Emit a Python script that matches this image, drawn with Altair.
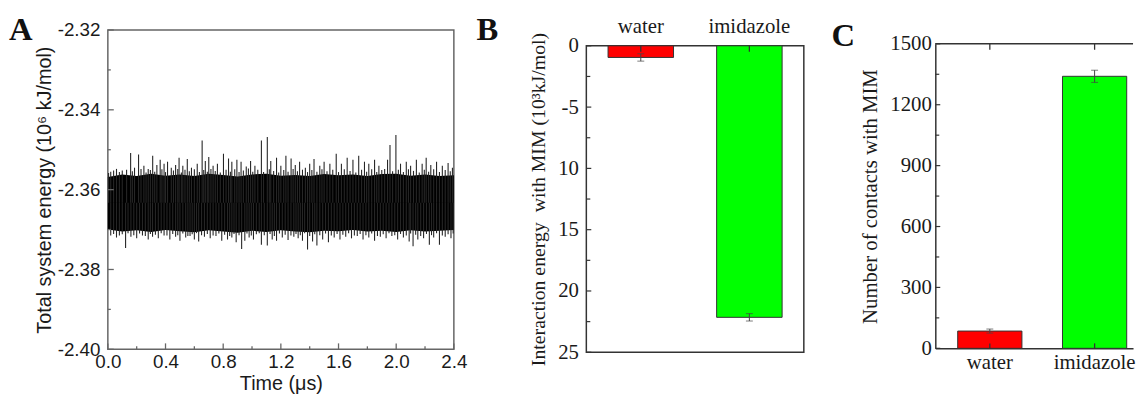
import altair as alt
import pandas as pd

SANS = "Liberation Sans"
SERIF = "Liberation Serif"
INK = "#1a1a1a"
FRAME_A = "#666666"
FRAME_BC = "#333333"

# ---------------- Panel A data ----------------
a_env_t = [0.00, 0.10, 0.20, 0.30, 0.40, 0.50, 0.60, 0.70, 0.80, 0.90, 1.00, 1.10,
           1.20, 1.30, 1.40, 1.50, 1.60, 1.70, 1.80, 1.90, 2.00, 2.10, 2.20, 2.30, 2.40]
a_env_hi = [-2.3568, -2.3562, -2.3566, -2.3560, -2.3565, -2.3562, -2.3566, -2.3560,
            -2.3563, -2.3567, -2.3562, -2.3560, -2.3565, -2.3563, -2.3566, -2.3561,
            -2.3564, -2.3562, -2.3566, -2.3561, -2.3560, -2.3565, -2.3562, -2.3566, -2.3564]
a_env_lo = [-2.3700, -2.3705, -2.3702, -2.3706, -2.3701, -2.3704, -2.3707, -2.3702,
            -2.3705, -2.3708, -2.3703, -2.3706, -2.3702, -2.3705, -2.3707, -2.3703,
            -2.3704, -2.3701, -2.3705, -2.3703, -2.3706, -2.3702, -2.3705, -2.3703, -2.3701]
a_center = -2.3633

# tall spikes above the band
a_up_t = [0.02, 0.06, 0.10, 0.158, 0.185, 0.213, 0.25, 0.28, 0.311, 0.34, 0.363, 0.39,
          0.414, 0.44, 0.47, 0.494, 0.52, 0.551, 0.58, 0.62, 0.654, 0.676, 0.70, 0.73,
          0.76, 0.802, 0.837, 0.86, 0.895, 0.924, 0.96, 0.99, 1.02, 1.065, 1.106, 1.13,
          1.17, 1.20, 1.235, 1.271, 1.30, 1.33, 1.37, 1.40, 1.43, 1.47, 1.50, 1.54,
          1.584, 1.62, 1.66, 1.70, 1.74, 1.78, 1.81, 1.85, 1.88, 1.94, 1.957, 1.998,
          2.03, 2.07, 2.10, 2.14, 2.18, 2.208, 2.24, 2.28, 2.32, 2.36, 2.39]
a_up_v = [-2.3555, -2.3548, -2.3552, -2.3508, -2.3545, -2.3512, -2.3540, -2.3548,
          -2.3515, -2.3538, -2.3525, -2.3535, -2.3530, -2.3545, -2.3538, -2.3520,
          -2.3540, -2.3523, -2.3545, -2.3535, -2.3477, -2.3528, -2.3518, -2.3540,
          -2.3535, -2.3510, -2.3522, -2.3530, -2.3525, -2.3530, -2.3542, -2.3528,
          -2.3540, -2.3477, -2.3468, -2.3528, -2.3520, -2.3540, -2.3515, -2.3522,
          -2.3538, -2.3530, -2.3545, -2.3535, -2.3523, -2.3540, -2.3530, -2.3535,
          -2.3510, -2.3535, -2.3520, -2.3525, -2.3515, -2.3530, -2.3535, -2.3525,
          -2.3540, -2.3525, -2.3488, -2.3463, -2.3535, -2.3530, -2.3540, -2.3525,
          -2.3535, -2.3520, -2.3538, -2.3530, -2.3540, -2.3533, -2.3545]
# short jagged spikes on the upper edge
a_upe_t = [0.005, 0.04, 0.08, 0.13, 0.17, 0.23, 0.265, 0.295, 0.325, 0.375, 0.40, 0.455,
           0.485, 0.51, 0.535, 0.565, 0.60, 0.635, 0.665, 0.69, 0.715, 0.745, 0.78, 0.82,
           0.85, 0.88, 0.91, 0.94, 0.975, 1.005, 1.04, 1.08, 1.12, 1.15, 1.185, 1.22,
           1.25, 1.285, 1.315, 1.35, 1.385, 1.415, 1.45, 1.485, 1.52, 1.56, 1.60, 1.64,
           1.68, 1.72, 1.76, 1.795, 1.83, 1.865, 1.90, 1.92, 1.975, 2.015, 2.05, 2.085,
           2.12, 2.16, 2.195, 2.225, 2.26, 2.30, 2.34, 2.375]
a_upe_v = [-2.3558, -2.3552, -2.3556, -2.3550, -2.3554, -2.3548, -2.3557, -2.3551,
           -2.3555, -2.3549, -2.3556, -2.3552, -2.3548, -2.3557, -2.3550, -2.3554,
           -2.3549, -2.3556, -2.3551, -2.3555, -2.3548, -2.3553, -2.3557, -2.3550,
           -2.3555, -2.3549, -2.3556, -2.3552, -2.3547, -2.3555, -2.3550, -2.3556,
           -2.3549, -2.3553, -2.3557, -2.3551, -2.3555, -2.3548, -2.3554, -2.3550,
           -2.3556, -2.3551, -2.3555, -2.3549, -2.3554, -2.3550, -2.3556, -2.3549,
           -2.3553, -2.3557, -2.3550, -2.3555, -2.3549, -2.3556, -2.3551, -2.3548,
           -2.3554, -2.3550, -2.3556, -2.3549, -2.3553, -2.3557, -2.3550, -2.3555,
           -2.3549, -2.3556, -2.3551, -2.3554]
# tall spikes below the band
a_dn_t = [0.02, 0.06, 0.10, 0.123, 0.16, 0.20, 0.24, 0.28, 0.31, 0.35, 0.39, 0.43,
          0.47, 0.50, 0.54, 0.57, 0.60, 0.63, 0.67, 0.71, 0.75, 0.79, 0.83, 0.86,
          0.89, 0.928, 0.95, 0.98, 1.01, 1.065, 1.106, 1.14, 1.17, 1.21, 1.25, 1.29,
          1.32, 1.35, 1.385, 1.42, 1.45, 1.49, 1.53, 1.57, 1.61, 1.65, 1.69, 1.73,
          1.77, 1.81, 1.85, 1.89, 1.93, 1.97, 2.01, 2.05, 2.09, 2.117, 2.15, 2.19,
          2.23, 2.26, 2.30, 2.34, 2.38]
a_dn_v = [-2.3715, -2.3720, -2.3712, -2.3746, -2.3718, -2.3722, -2.3715, -2.3725,
          -2.3718, -2.3722, -2.3715, -2.3725, -2.3718, -2.3728, -2.3720, -2.3716,
          -2.3725, -2.3730, -2.3718, -2.3722, -2.3716, -2.3728, -2.3725, -2.3720,
          -2.3732, -2.3749, -2.3728, -2.3720, -2.3725, -2.3738, -2.3740, -2.3725,
          -2.3728, -2.3720, -2.3726, -2.3718, -2.3722, -2.3728, -2.3750, -2.3730,
          -2.3740, -2.3725, -2.3732, -2.3720, -2.3725, -2.3718, -2.3722, -2.3716,
          -2.3725, -2.3720, -2.3728, -2.3718, -2.3722, -2.3716, -2.3725, -2.3720,
          -2.3730, -2.3742, -2.3725, -2.3722, -2.3738, -2.3720, -2.3738, -2.3718, -2.3722]
# short jagged spikes on the lower edge
a_dne_t = [0.04, 0.08, 0.14, 0.18, 0.22, 0.26, 0.295, 0.33, 0.37, 0.41, 0.45, 0.485,
           0.52, 0.555, 0.585, 0.615, 0.65, 0.69, 0.73, 0.77, 0.81, 0.845, 0.875, 0.91,
           0.965, 0.995, 1.03, 1.05, 1.085, 1.125, 1.155, 1.19, 1.23, 1.27, 1.305, 1.335,
           1.365, 1.40, 1.435, 1.47, 1.51, 1.55, 1.59, 1.63, 1.67, 1.71, 1.75, 1.79,
           1.83, 1.87, 1.91, 1.95, 1.99, 2.03, 2.07, 2.10, 2.135, 2.17, 2.21, 2.245,
           2.28, 2.32, 2.36, 2.395]
a_dne_v = [-2.3711, -2.3715, -2.3709, -2.3714, -2.3710, -2.3716, -2.3711, -2.3713,
           -2.3709, -2.3715, -2.3711, -2.3714, -2.3710, -2.3716, -2.3712, -2.3709,
           -2.3714, -2.3711, -2.3715, -2.3710, -2.3713, -2.3716, -2.3711, -2.3714,
           -2.3710, -2.3715, -2.3712, -2.3709, -2.3714, -2.3711, -2.3716, -2.3710,
           -2.3713, -2.3715, -2.3711, -2.3714, -2.3709, -2.3716, -2.3712, -2.3714,
           -2.3710, -2.3715, -2.3711, -2.3713, -2.3709, -2.3715, -2.3711, -2.3714,
           -2.3710, -2.3716, -2.3712, -2.3709, -2.3714, -2.3711, -2.3715, -2.3710,
           -2.3713, -2.3716, -2.3711, -2.3714, -2.3709, -2.3715, -2.3712, -2.3710]

a_xticks_major = [0.0, 0.4, 0.8, 1.2, 1.6, 2.0, 2.4]
a_xticks_minor = [0.2, 0.6, 1.0, 1.4, 1.8, 2.2]
a_yticks_major = [-2.40, -2.38, -2.36, -2.34, -2.32]
a_yticks_minor = [-2.39, -2.37, -2.35, -2.33]

# ---------------- Panel B data ----------------
b_cat = ["water", "imidazole"]
b_val = [-0.95, -22.15]
b_err = [0.30, 0.30]
b_tick_values = [0, -5, -10, -15, -20, -25]
b_tick_labels = ["0", "-5", "10", "15", "20", "25"]
b_minor = [-2.5, -7.5, -12.5, -17.5, -22.5]

# ---------------- Panel C data ----------------
c_cat = ["water", "imidazole"]
c_val = [85, 1340]
c_err = [10, 30]
c_ticks = [0, 300, 600, 900, 1200, 1500]
c_minor = [150, 450, 750, 1050, 1350]

bar_colors = ["#ff0000", "#00ff00"]


def spacer(h):
    return alt.Chart(pd.DataFrame({"k": [0]})).mark_rule(strokeOpacity=0).encode(
        x=alt.value(0), x2=alt.value(1), y=alt.value(h / 2)
    ).properties(width=1, height=h, view=alt.ViewBackground(stroke="transparent"))


def letter(txt, x, y):
    return alt.Chart(pd.DataFrame({"l": [txt]})).mark_text(
        font=SERIF, fontWeight="bold", fontSize=33, align="left", baseline="top", color="#111111"
    ).encode(text="l:N", x=alt.value(x), y=alt.value(y))


def anchor(x1, x2):
    return alt.Chart(pd.DataFrame({"k": [0]})).mark_rule(strokeOpacity=0).encode(
        x=alt.value(x1), x2=alt.value(x2), y=alt.value(2))


# =============== Panel A ===============
W_A, H_A = 350, 323
xs_a = alt.Scale(domain=[0, 2.4], nice=False, zero=False)
ys_a = alt.Scale(domain=[-2.40, -2.32], nice=False, zero=False)
ax_a_x = alt.Axis(values=a_xticks_major, format=".1f", title="Time (μs)",
                  labelFont=SANS, labelFontSize=19, labelColor=INK,
                  titleFont=SANS, titleFontSize=20, titleFontWeight="normal", titleColor=INK,
                  ticks=False, tickSize=0, domain=False, grid=False, labelFlush=False,
                  labelPadding=3, titlePadding=3, labelOverlap=False)
ax_a_y = alt.Axis(values=a_yticks_major, labelExpr="'-' + format(abs(datum.value), '.2f')",
                  title="Total system energy (10⁶ kJ/mol)",
                  labelFont=SANS, labelFontSize=19, labelColor=INK,
                  titleFont=SANS, titleFontSize=20, titleFontWeight="normal", titleColor=INK,
                  ticks=False, tickSize=0, domain=False, grid=False, labelFlush=False,
                  labelPadding=8, titlePadding=3, labelOverlap=False)

df_env = pd.DataFrame({"t": a_env_t, "hi": a_env_hi, "lo": a_env_lo})
df_spk = pd.DataFrame({"t": a_up_t + a_upe_t + a_dn_t + a_dne_t,
                       "v": a_up_v + a_upe_v + a_dn_v + a_dne_v})
df_spk["b"] = a_center

band = alt.Chart(df_env).mark_area(color="#000000", opacity=1).encode(
    x=alt.X("t:Q", scale=xs_a, axis=ax_a_x),
    y=alt.Y("hi:Q", scale=ys_a, axis=ax_a_y),
    y2="lo:Q")
spikes = alt.Chart(df_spk).mark_rule(color="#262626", strokeWidth=1.1).encode(
    x=alt.X("t:Q", scale=xs_a, axis=ax_a_x),
    y=alt.Y("v:Q", scale=ys_a, axis=ax_a_y),
    y2="b:Q")
a_xmaj = alt.Chart(pd.DataFrame({"t": a_xticks_major})).mark_rule(color=FRAME_A, strokeWidth=1.3).encode(
    x=alt.X("t:Q", scale=xs_a, axis=ax_a_x), y=alt.value(H_A), y2=alt.value(H_A - 6))
a_xmin = alt.Chart(pd.DataFrame({"t": a_xticks_minor})).mark_rule(color=FRAME_A, strokeWidth=1.3).encode(
    x=alt.X("t:Q", scale=xs_a, axis=ax_a_x), y=alt.value(H_A), y2=alt.value(H_A - 3))
a_ymaj = alt.Chart(pd.DataFrame({"y": a_yticks_major})).mark_rule(color=FRAME_A, strokeWidth=1.3).encode(
    y=alt.Y("y:Q", scale=ys_a, axis=ax_a_y), x=alt.value(0), x2=alt.value(6))
a_ymin = alt.Chart(pd.DataFrame({"y": a_yticks_minor})).mark_rule(color=FRAME_A, strokeWidth=1.3).encode(
    y=alt.Y("y:Q", scale=ys_a, axis=ax_a_y), x=alt.value(0), x2=alt.value(3))

panel_a = alt.layer(band, spikes, a_xmaj, a_xmin, a_ymaj, a_ymin,
                    anchor(-100, 362), letter("A", -100, -16)).properties(
    width=W_A, height=H_A, view=alt.ViewBackground(stroke=FRAME_A, strokeWidth=1.5))

# =============== Panel B ===============
W_B, H_B = 220, 310
df_b = pd.DataFrame({"cat": b_cat, "val": b_val,
                     "lo": [v - e for v, e in zip(b_val, b_err)],
                     "hi": [v + e for v, e in zip(b_val, b_err)]})
xs_b = alt.Scale(domain=b_cat, paddingInner=0.397, paddingOuter=0.2)
ys_b = alt.Scale(domain=[-25, 0], nice=False, zero=False)
b_expr = " : ".join(f"datum.value == {v} ? '{l}'" for v, l in zip(b_tick_values, b_tick_labels)) + " : ''"
ax_b_x = alt.Axis(orient="top", title=None, labelAngle=0, labelFont=SERIF, labelFontSize=21,
                  labelColor=INK, ticks=False, tickSize=0, domain=False, grid=False, labelPadding=9)
ax_b_y = alt.Axis(values=b_tick_values, labelExpr=b_expr,
                  title="Interaction energy\u00a0 with MIM (10³kJ/mol)",
                  labelFont=SERIF, labelFontSize=21, labelColor=INK,
                  titleFont=SERIF, titleFontSize=20, titleFontWeight="normal", titleColor=INK,
                  ticks=False, tickSize=0, domain=False, grid=False,
                  labelPadding=8, titlePadding=9, labelOverlap=False)
xb = alt.X("cat:N", sort=b_cat, scale=xs_b, axis=ax_b_x)

b_bars = alt.Chart(df_b).mark_bar(stroke="#333333", strokeWidth=1).encode(
    x=xb, y=alt.Y("val:Q", scale=ys_b, axis=ax_b_y),
    color=alt.Color("cat:N", scale=alt.Scale(domain=b_cat, range=bar_colors), legend=None))
b_err_r = alt.Chart(df_b).mark_rule(color="#444444", strokeWidth=1).encode(
    x=xb, y=alt.Y("lo:Q", scale=ys_b, axis=ax_b_y), y2="hi:Q")
b_cap_lo = alt.Chart(df_b).mark_tick(color="#444444", size=7, thickness=1).encode(
    x=xb, y=alt.Y("lo:Q", scale=ys_b, axis=ax_b_y))
b_cap_hi = alt.Chart(df_b).mark_tick(color="#444444", size=7, thickness=1).encode(
    x=xb, y=alt.Y("hi:Q", scale=ys_b, axis=ax_b_y))
b_cat_ticks = alt.Chart(df_b).mark_rule(color=FRAME_BC, strokeWidth=1.3).encode(
    x=xb, y=alt.value(0), y2=alt.value(6))
b_ymaj = alt.Chart(pd.DataFrame({"y": b_tick_values})).mark_rule(color=FRAME_BC, strokeWidth=1.2).encode(
    y=alt.Y("y:Q", scale=ys_b, axis=ax_b_y), x=alt.value(0), x2=alt.value(5))
b_ymin = alt.Chart(pd.DataFrame({"y": b_minor})).mark_rule(color=FRAME_BC, strokeWidth=1.2).encode(
    y=alt.Y("y:Q", scale=ys_b, axis=ax_b_y), x=alt.value(0), x2=alt.value(4))

panel_b = alt.layer(b_bars, b_err_r, b_cap_lo, b_cap_hi, b_cat_ticks, b_ymaj, b_ymin,
                    anchor(-111, 238), letter("B", -111, -32)).properties(
    width=W_B, height=H_B, view=alt.ViewBackground(stroke=FRAME_BC, strokeWidth=1.5))

# =============== Panel C ===============
W_C, H_C = 200, 308
df_c = pd.DataFrame({"cat": c_cat, "val": c_val,
                     "lo": [v - e for v, e in zip(c_val, c_err)],
                     "hi": [v + e for v, e in zip(c_val, c_err)]})
xs_c = alt.Scale(domain=c_cat, paddingInner=0.387, paddingOuter=0.137, align=0.78)
ys_c = alt.Scale(domain=[0, 1500], nice=False)
ax_c_x = alt.Axis(orient="bottom", title=None, labelAngle=0, labelFont=SERIF, labelFontSize=21,
                  labelColor=INK, ticks=False, tickSize=0, domain=True, domainColor=FRAME_BC,
                  domainWidth=1.5, grid=False, labelPadding=3)
ax_c_y = alt.Axis(values=c_ticks, format="d", title="Number of contacts with MIM",
                  labelFont=SERIF, labelFontSize=21, labelColor=INK,
                  titleFont=SERIF, titleFontSize=21, titleFontWeight="normal", titleColor=INK,
                  ticks=False, tickSize=0, domain=True, domainColor=FRAME_BC, domainWidth=1.5,
                  grid=False, labelPadding=4, titlePadding=9, labelOverlap=False)
xc = alt.X("cat:N", sort=c_cat, scale=xs_c, axis=ax_c_x)

c_bars = alt.Chart(df_c).mark_bar(stroke="#333333", strokeWidth=1).encode(
    x=xc, y=alt.Y("val:Q", scale=ys_c, axis=ax_c_y),
    color=alt.Color("cat:N", scale=alt.Scale(domain=c_cat, range=bar_colors), legend=None))
c_err_r = alt.Chart(df_c).mark_rule(color="#444444", strokeWidth=1).encode(
    x=xc, y=alt.Y("lo:Q", scale=ys_c, axis=ax_c_y), y2="hi:Q")
c_cap_lo = alt.Chart(df_c).mark_tick(color="#444444", size=7, thickness=1).encode(
    x=xc, y=alt.Y("lo:Q", scale=ys_c, axis=ax_c_y))
c_cap_hi = alt.Chart(df_c).mark_tick(color="#444444", size=7, thickness=1).encode(
    x=xc, y=alt.Y("hi:Q", scale=ys_c, axis=ax_c_y))
c_top_ticks = alt.Chart(df_c).mark_rule(color=FRAME_BC, strokeWidth=1.3).encode(
    x=xc, y=alt.value(0), y2=alt.value(6))
c_bot_ticks = alt.Chart(df_c).mark_rule(color=FRAME_BC, strokeWidth=1.3).encode(
    x=xc, y=alt.value(H_C - 5), y2=alt.value(H_C))
c_ymaj = alt.Chart(pd.DataFrame({"y": c_ticks})).mark_rule(color=FRAME_BC, strokeWidth=1.2).encode(
    y=alt.Y("y:Q", scale=ys_c, axis=ax_c_y), x=alt.value(0), x2=alt.value(5))
c_ymin = alt.Chart(pd.DataFrame({"y": c_minor})).mark_rule(color=FRAME_BC, strokeWidth=1.2).encode(
    y=alt.Y("y:Q", scale=ys_c, axis=ax_c_y), x=alt.value(0), x2=alt.value(4))
c_top_line = alt.Chart(pd.DataFrame({"k": [0]})).mark_rule(color=FRAME_BC, strokeWidth=1.5).encode(
    x=alt.value(0), x2=alt.value(W_C), y=alt.value(0))

panel_c = alt.layer(c_bars, c_err_r, c_cap_lo, c_cap_hi, c_top_ticks, c_bot_ticks, c_ymaj, c_ymin,
                    c_top_line, anchor(-105, W_C), letter("C", -105, -24)).properties(
    width=W_C, height=H_C, view=alt.ViewBackground(stroke="transparent"))

col_a = alt.vconcat(spacer(1), panel_a, spacing=0)
col_b = alt.vconcat(spacer(1), panel_b, spacing=0)
col_c = alt.vconcat(spacer(7), panel_c, spacing=0)

chart = alt.hconcat(col_a, col_b, col_c, spacing=8).properties(
    padding={"left": 0, "top": 0, "right": 0, "bottom": 0},
    background="white")

chart.save("out.html", embed_options={"renderer": "svg", "actions": False})
